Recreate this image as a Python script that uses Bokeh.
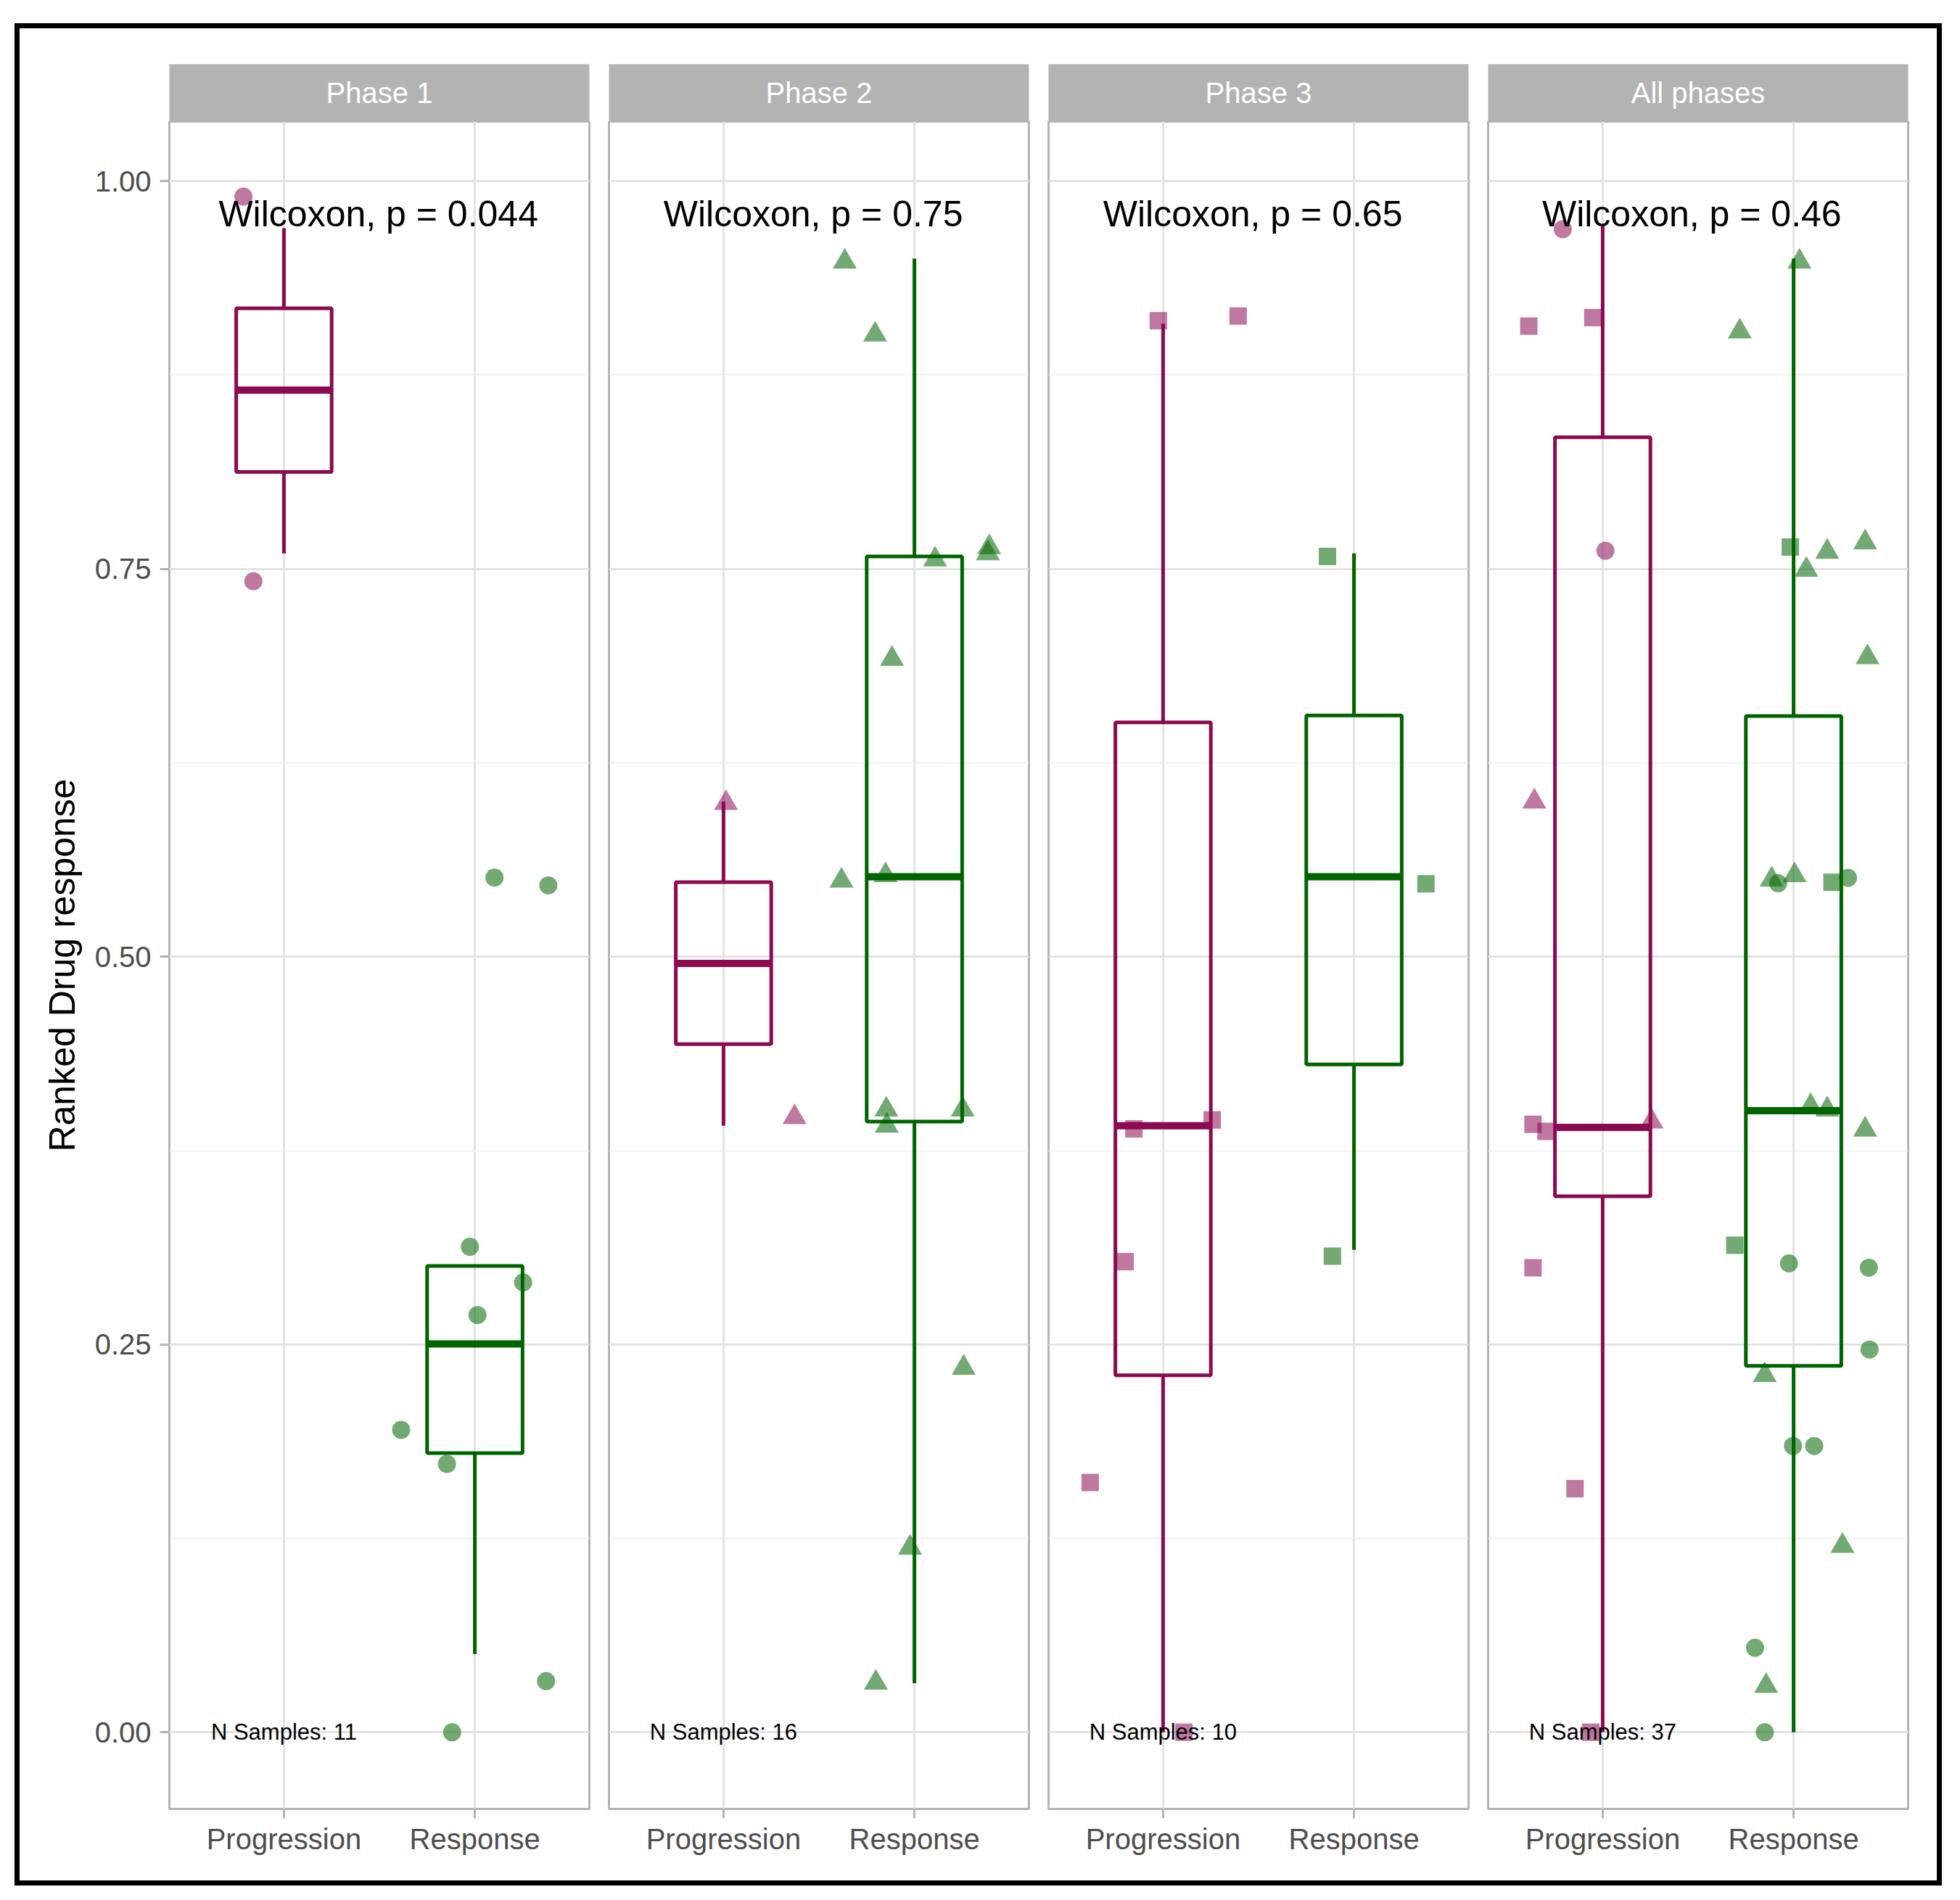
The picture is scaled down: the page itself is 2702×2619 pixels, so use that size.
from bokeh.plotting import figure
from bokeh.models import Range1d, LinearAxis, FixedTicker, Grid, Spacer, ColumnDataSource, Div
from bokeh.layouts import row, column
from bokeh.core.properties import value
from bokeh.embed import file_html
from bokeh.resources import INLINE

# ---------------------------------------------------------------- data
PANELS = ["Phase 1", "Phase 2", "Phase 3", "All phases"]
GROUPS = ["Progression", "Response"]
P_LABELS = ["Wilcoxon, p = 0.044", "Wilcoxon, p = 0.75",
            "Wilcoxon, p = 0.65", "Wilcoxon, p = 0.46"]
N_SAMPLES = [11, 16, 10, 37]
Y_TICKS = [0.0, 0.25, 0.5, 0.75, 1.0]
Y_MINOR = [0.125, 0.375, 0.625, 0.875]
Y_TICK_LABELS = ["0.00", "0.25", "0.50", "0.75", "1.00"]
Y_TITLE = "Ranked Drug response"

# boxplot summaries per panel: lower whisker, Q1, median, Q3, upper whisker
BOX_PROGRESSION = [
    [0.760, 0.8125, 0.8653, 0.918, 0.9697],
    [0.391, 0.4436, 0.4957, 0.548, 0.600],
    [0.000, 0.2302, 0.391, 0.651, 0.908],
    [0.000, 0.3456, 0.390, 0.8348, 0.971],
]
BOX_RESPONSE = [
    [0.0505, 0.180, 0.2504, 0.3006, 0.3006],
    [0.0316, 0.3937, 0.5515, 0.758, 0.950],
    [0.311, 0.4306, 0.5515, 0.6555, 0.760],
    [0.000, 0.2362, 0.4007, 0.6552, 0.950],
]

# jittered samples: group (0 = Progression, 1 = Response), horizontal jitter,
# ranked drug response, trial phase of the sample
P1_GROUP = [0, 0, 1, 1, 1, 1, 1, 1, 1, 1, 1]
P1_JITTER = [-0.212, -0.160, 0.103, 0.385, -0.026, 0.253, 0.014, -0.386, -0.146, 0.373, -0.119]
P1_VALUE = [0.990, 0.742, 0.551, 0.546, 0.313, 0.290, 0.269, 0.195, 0.173, 0.033, 0.000]
P1_PHASE = [1] * 11

P2_GROUP = [0, 0] + [1] * 14
P2_JITTER = [0.013, 0.372, -0.365, -0.206, 0.108, 0.392, 0.385, -0.1175, -0.382, -0.151,
             -0.147, -0.145, 0.253, 0.258, -0.023, -0.202]
P2_VALUE = [0.599, 0.3965, 0.948, 0.901, 0.756, 0.764, 0.760, 0.692, 0.549, 0.5525,
            0.4014, 0.391, 0.4014, 0.235, 0.119, 0.032]
P2_PHASE = [2] * 16

P3_GROUP = [0] * 7 + [1] * 3
P3_JITTER = [-0.025, 0.393, -0.153, 0.257, -0.199, -0.382, 0.109, -0.139, 0.377, -0.113]
P3_VALUE = [0.910, 0.913, 0.389, 0.3948, 0.3034, 0.161, 0.000, 0.758, 0.547, 0.307]
P3_PHASE = [3] * 10

P4_GROUP = [0] * 11 + [1] * 26
P4_JITTER = [-0.209, -0.387, -0.052, 0.0145, -0.358, -0.365, -0.297, 0.256, -0.365, -0.145, -0.0625,
             0.031, -0.282, -0.017, 0.176, 0.375, 0.067, 0.387, -0.115, -0.081, 0.005, 0.201,
             0.285, 0.089, 0.176, 0.375, -0.308, -0.024, 0.394, 0.398, -0.151, -0.003, 0.108,
             0.256, -0.202, -0.144, -0.151]
P4_VALUE = [0.969, 0.9065, 0.912, 0.7617, 0.600, 0.392, 0.3874, 0.3937, 0.2995, 0.1571, 0.000,
            0.948, 0.903, 0.7641, 0.761, 0.767, 0.7494, 0.693, 0.5497, 0.5473, 0.5525, 0.548,
            0.5508, 0.4036, 0.4015, 0.3885, 0.314, 0.3023, 0.2995, 0.2468, 0.2303, 0.1846, 0.1846,
            0.1202, 0.0545, 0.0299, 0.000]
P4_PHASE = [1, 3, 3, 1, 2, 3, 3, 2, 3, 3, 3,
            2, 2, 3, 2, 2, 2, 2, 2, 1, 2, 3,
            1, 2, 2, 2, 3, 1, 1, 1, 2, 1, 1,
            2, 1, 2, 1]

SAMPLES = [
    (P1_GROUP, P1_JITTER, P1_VALUE, P1_PHASE),
    (P2_GROUP, P2_JITTER, P2_VALUE, P2_PHASE),
    (P3_GROUP, P3_JITTER, P3_VALUE, P3_PHASE),
    (P4_GROUP, P4_JITTER, P4_VALUE, P4_PHASE),
]

# ---------------------------------------------------------------- style
FONT = "Liberation Sans"
COL_LINE = ["#8B0A50", "#006400"]          # box colours (Progression, Response)
POINT_ALPHA = 0.55
PHASE_MARKER = {1: "circle", 2: "triangle", 3: "square"}
MARKER_SIZE = {"circle": 25, "triangle": 33, "square": 24}
STRIP_FILL = "#B3B3B3"
BORDER_GREY = "#B3B3B3"
TEXT_GREY = "#4D4D4D"
BOX_HALF = 0.25
BOX_LINE = 5
MEDIAN_LINE = 10
X_RANGE = (0.4, 2.6)
Y_RANGE = (-0.0494, 1.0384)
LABEL_Y = 0.979
LABEL_X = [1.495, 1.47, 1.47, 1.467]

# canvas geometry (pixels)
FRAME_W = 579
LEFT_B = [206, 14, 14, 14]
RIGHT_B = [13, 13, 13, 40]
STRIP_TOP = 49
STRIP_H = 79
MAIN_FRAME_H = 2326
MAIN_BOTTOM = 99
FRAME_LINE = 7


def style_axis(ax):
    ax.axis_line_color = None
    ax.major_tick_line_color = BORDER_GREY
    ax.major_tick_line_width = 3
    ax.major_tick_out = 13
    ax.major_tick_in = 0
    ax.minor_tick_line_color = None
    ax.major_label_text_font = FONT
    ax.major_label_text_font_size = "40px"
    ax.major_label_text_color = TEXT_GREY
    ax.axis_label_text_font = FONT
    ax.axis_label_text_font_size = "50px"
    ax.axis_label_text_font_style = "normal"
    ax.axis_label_text_color = "black"


def make_strip(i):
    w = LEFT_B[i] + FRAME_W + RIGHT_B[i]
    s = figure(width=w, height=STRIP_TOP + STRIP_H, x_range=Range1d(0, 1), y_range=Range1d(0, 1),
               x_axis_type=None, y_axis_type=None, toolbar_location=None, output_backend="svg",
               min_border_left=LEFT_B[i], min_border_right=RIGHT_B[i],
               min_border_top=STRIP_TOP, min_border_bottom=0,
               background_fill_color=STRIP_FILL, border_fill_color="white",
               outline_line_color=None)
    s.text(x=[0.5], y=[0.5], text=[PANELS[i]], text_align="center", text_baseline="middle",
           text_color="white", text_font=value(FONT), text_font_size="40px")
    return s


def make_panel(i):
    w = LEFT_B[i] + FRAME_W + RIGHT_B[i]
    p = figure(width=w, height=MAIN_FRAME_H + MAIN_BOTTOM,
               x_range=Range1d(*X_RANGE), y_range=Range1d(*Y_RANGE),
               x_axis_type=None, y_axis_type=None, toolbar_location=None, output_backend="svg",
               min_border_left=LEFT_B[i], min_border_right=RIGHT_B[i],
               min_border_top=0, min_border_bottom=MAIN_BOTTOM,
               background_fill_color="white", border_fill_color="white",
               outline_line_color=BORDER_GREY, outline_line_width=3)

    xgrid = Grid(dimension=0, ticker=FixedTicker(ticks=[1, 2]),
                 grid_line_color="#E3E3E3", grid_line_width=3)
    ygrid = Grid(dimension=1, ticker=FixedTicker(ticks=Y_TICKS, minor_ticks=Y_MINOR),
                 grid_line_color="#E3E3E3", grid_line_width=3,
                 minor_grid_line_color="#EDEDED", minor_grid_line_width=1.6)
    p.add_layout(xgrid, "center")
    p.add_layout(ygrid, "center")

    xaxis = LinearAxis(ticker=FixedTicker(ticks=[1, 2]),
                       major_label_overrides={1: GROUPS[0], 2: GROUPS[1]},
                       major_label_standoff=6)
    style_axis(xaxis)
    p.add_layout(xaxis, "below")

    if i == 0:
        yaxis = LinearAxis(ticker=FixedTicker(ticks=Y_TICKS),
                           major_label_overrides={t: l for t, l in zip(Y_TICKS, Y_TICK_LABELS)},
                           major_label_standoff=12, axis_label=Y_TITLE,
                           axis_label_standoff=14)
        style_axis(yaxis)
        p.add_layout(yaxis, "left")

    # jittered samples
    grp, jit, val, phase = SAMPLES[i]
    markers = [PHASE_MARKER[ph] for ph in phase]
    src = ColumnDataSource(dict(
        x=[g + 1 + j for g, j in zip(grp, jit)],
        y=val,
        marker=markers,
        size=[MARKER_SIZE[m] for m in markers],
        color=[COL_LINE[g] for g in grp],
    ))
    p.scatter(x="x", y="y", marker="marker", size="size", fill_color="color",
              fill_alpha=POINT_ALPHA, line_color=None, source=src)

    # boxplots, drawn over the points with no fill
    for g, stats in enumerate([BOX_PROGRESSION[i], BOX_RESPONSE[i]]):
        lo, q1, med, q3, hi = stats
        c = g + 1
        col = COL_LINE[g]
        p.segment(x0=[c, c], y0=[q3, q1], x1=[c, c], y1=[hi, lo],
                  line_color=col, line_width=BOX_LINE)
        p.quad(left=[c - BOX_HALF], right=[c + BOX_HALF], bottom=[q1], top=[q3],
               fill_color=None, line_color=col, line_width=BOX_LINE)
        p.segment(x0=[c - BOX_HALF], y0=[med], x1=[c + BOX_HALF], y1=[med],
                  line_color=col, line_width=MEDIAN_LINE)

    p.text(x=[LABEL_X[i]], y=[LABEL_Y], text=[P_LABELS[i]], text_align="center",
           text_baseline="alphabetic", text_color="black",
           text_font=value(FONT), text_font_size="50px")
    p.text(x=[1], y=[0], text=[f"N Samples: {N_SAMPLES[i]}"], text_align="center",
           text_baseline="middle", text_color="black",
           text_font=value(FONT), text_font_size="31px")
    return p


def bar(w, h):
    # solid black band of the outer frame
    return Div(text="", width=w, height=h, margin=0,
               styles={"background-color": "black"})


strips = [make_strip(i) for i in range(4)]
panels = [make_panel(i) for i in range(4)]
inner = column(row(*strips), row(*panels))

inner_w = sum(LEFT_B) + 4 * FRAME_W + sum(RIGHT_B)
inner_h = STRIP_TOP + STRIP_H + MAIN_FRAME_H + MAIN_BOTTOM

framed = column(
    bar(inner_w + 2 * FRAME_LINE, FRAME_LINE),
    row(bar(FRAME_LINE, inner_h), inner, bar(FRAME_LINE, inner_h)),
    bar(inner_w + 2 * FRAME_LINE, FRAME_LINE),
)
page = column(Spacer(height=32), row(Spacer(width=20), framed))

open("out.html", "w").write(file_html(page, INLINE))
